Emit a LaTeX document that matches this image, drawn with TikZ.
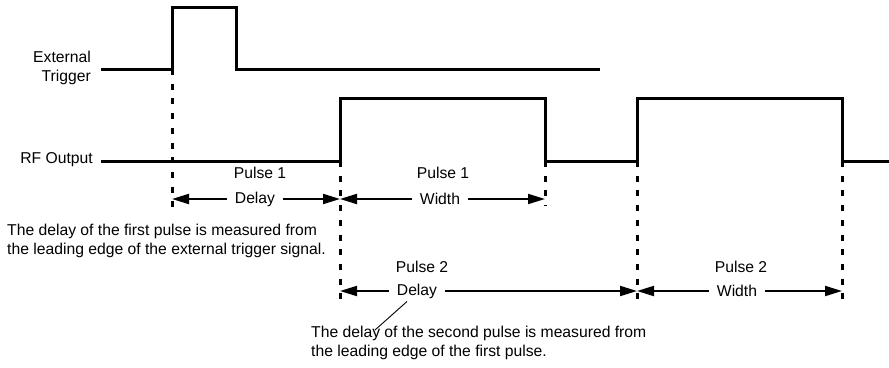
\documentclass[tikz,border=0pt]{standalone}
\usepackage{fontspec}
\setmainfont{Liberation Sans}
\usetikzlibrary{arrows.meta,positioning,calc}

\begin{document}
\begin{tikzpicture}[
  x=1pt, y=-1pt,
  signal/.style={line width=3pt, line join=miter},
  marker/.style={line width=3pt, dash pattern=on 6pt off 8.7pt},
  dim/.style={line width=2pt, -{Triangle[length=17pt,width=10pt]}},
  lbl/.style={font=\fontsize{15.7}{18}\selectfont, inner xsep=8pt, inner ysep=3pt},
  note/.style={font=\fontsize{15.7}{18.5}\selectfont, align=left, inner sep=0pt}
]
\useasboundingbox (0,0) rectangle (889,367);

% signal edges
\coordinate (trig)  at (172,69);
\coordinate (rise1) at (340,161);
\coordinate (fall1) at (545,161);
\coordinate (rise2) at (637,161);
\coordinate (fall2) at (842,161);

% signals
\node[note, anchor=east, align=right] (ext) at (91,68) {External\\Trigger};
\node[note, anchor=east] (rf) at (93,160) {RF Output};
\draw[signal] (101,69) -- (trig) -- (172,7) -- (236,7) -- (236,69) -- (600,69);
\draw[signal] (101,161) -- (rise1) -- (340,98) -- (545,98) -- (fall1)
  -- (rise2) -- (637,98) -- (842,98) -- (fall2) -- (892,161);

% markers
\draw[marker] (trig)  -- (172,208);
\draw[marker] (rise1) -- (340,302);
\draw[marker] (fall1) -- (545,206);
\draw[marker] (rise2) -- (637,302);
\draw[marker] (fall2) -- (842,302);

% first row
\node[lbl] (d1)  at (255,199) {Delay};
\node[lbl] (p1d) at (260,173) {Pulse 1};
\node[lbl] (w1)  at (440,199) {Width};
\node[lbl] (p1w) at (443,173) {Pulse 1};
\draw[dim] (d1.west) -- (trig |- d1);
\draw[dim] (d1.east) -- (rise1 |- d1);
\draw[dim] (w1.west) -- (rise1 |- w1);
\draw[dim] (w1.east) -- (fall1 |- w1);

% second row
\node[lbl] (d2)  at (417,291) {Delay};
\node[lbl] (p2d) at (422,267) {Pulse 2};
\node[lbl] (w2)  at (737,291) {Width};
\node[lbl] (p2w) at (741,267) {Pulse 2};
\draw[dim] (d2.west) -- (rise1 |- d2);
\draw[dim] (d2.east) -- (rise2 |- d2);
\draw[dim] (w2.west) -- (rise2 |- w2);
\draw[dim] (w2.east) -- (fall2 |- w2);

% notes
\node[note, anchor=north west] (n1) at (7,224)
  {The delay of the first pulse is measured from\\the leading edge of the external trigger signal.};
\node[note, anchor=north west] (n2) at (311,326)
  {The delay of the second pulse is measured from\\the leading edge of the first pulse.};
\coordinate (lead) at (375,330);
\draw[line width=0.9pt] ($(d2.south)+(-10,0)$) -- (lead);
\end{tikzpicture}
\end{document}
